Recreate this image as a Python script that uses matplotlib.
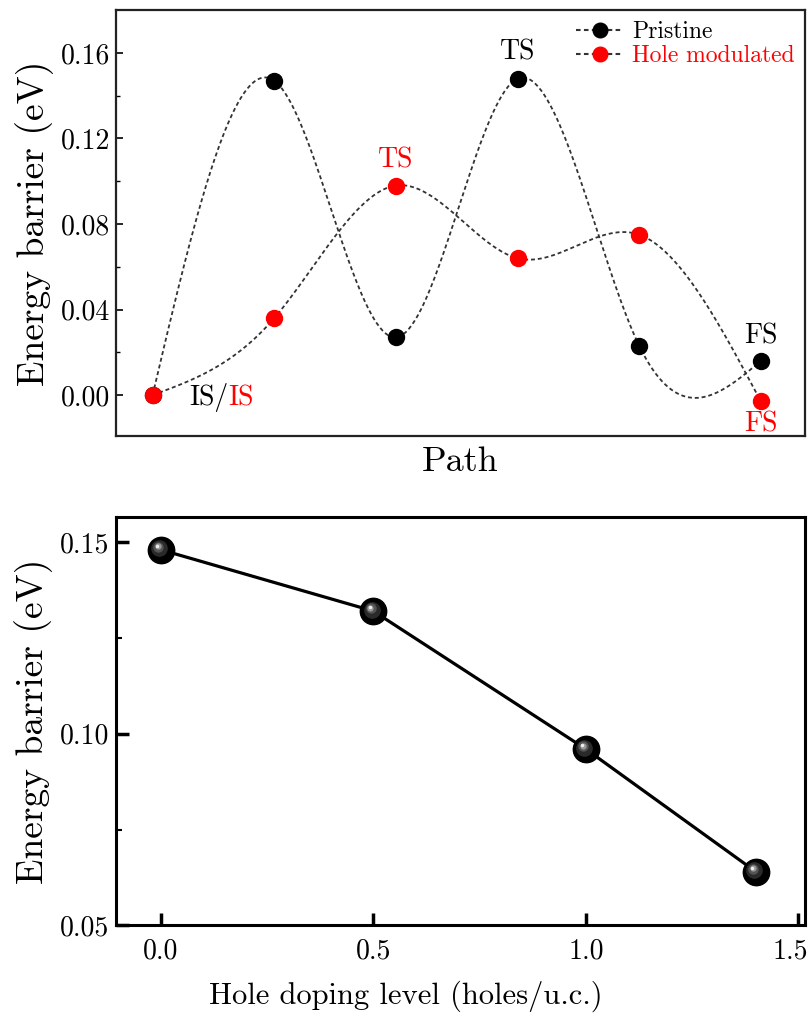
import numpy as np
import matplotlib
matplotlib.use("Agg")
from matplotlib import pyplot as plt
import matplotlib.transforms as mtransforms

plt.rcParams['font.family'] = ['cmr10', 'DejaVu Serif']
plt.rcParams['mathtext.fontset'] = 'cm'
plt.rcParams['axes.formatter.use_mathtext'] = True

# 反応経路のエネルギー
path_idx = [0, 1, 2, 3, 4, 5]
pristine = [0.0, 0.147, 0.027, 0.148, 0.023, 0.016]
hole_mod = [0.0, 0.036, 0.098, 0.064, 0.075, -0.003]

# ホールドープ量とバリア
doping = [0.0, 0.5, 1.0, 1.4]
barrier = [0.148, 0.132, 0.096, 0.064]


def natural_spline(x, y, n=400):
    """自然3次スプライン（線を滑らかにつなぐだけ）"""
    x = np.asarray(x, float)
    y = np.asarray(y, float)
    m = len(x)
    h = np.diff(x)
    A = np.zeros((m, m))
    b = np.zeros(m)
    A[0, 0] = A[-1, -1] = 1
    for i in range(1, m - 1):
        A[i, i - 1] = h[i - 1]
        A[i, i] = 2 * (h[i - 1] + h[i])
        A[i, i + 1] = h[i]
        b[i] = 6 * ((y[i + 1] - y[i]) / h[i] - (y[i] - y[i - 1]) / h[i - 1])
    M = np.linalg.solve(A, b)
    xs = np.linspace(x[0], x[-1], n)
    k = np.clip(np.searchsorted(x, xs) - 1, 0, m - 2)
    t0 = x[k + 1] - xs
    t1 = xs - x[k]
    hk = h[k]
    ys = (M[k] * t0**3 + M[k + 1] * t1**3) / (6 * hk) \
        + (y[k] / hk - M[k] * hk / 6) * t0 + (y[k + 1] / hk - M[k + 1] * hk / 6) * t1
    return xs, ys


fig = plt.figure(figsize=(8.12, 10.18), dpi=100)
ax1 = fig.add_axes([0.143, 0.572, 0.848, 0.418])
ax2 = fig.add_axes([0.143, 0.091, 0.848, 0.401])

# ---- 上段 ----
ls = (0, (2.2, 1.6))
for y, c in [(pristine, 'black'), (hole_mod, 'red')]:
    xs, ys = natural_spline(path_idx, y)
    ax1.plot(xs, ys, color='#333333', lw=1.3, ls=ls, zorder=2)
    ax1.plot(path_idx, y, 'o', color=c, ms=11.5, zorder=3)

# 凡例用
h1, = ax1.plot([], [], ls=ls, color='#333333', marker='o', mfc='black', mec='black', ms=10.5)
h2, = ax1.plot([], [], ls=ls, color='#333333', marker='o', mfc='red', mec='red', ms=10.5)
leg = ax1.legend([h1, h2], ['Pristine', 'Hole modulated'], loc='upper right', frameon=False,
                 fontsize=17, handlelength=2.0, handletextpad=0.35, borderaxespad=0.0,
                 labelspacing=0.1, borderpad=0.0, bbox_to_anchor=(0.985, 0.975))
leg.get_texts()[1].set_color('red')

t_is = ax1.text(0.30, -0.001, 'IS/', fontsize=20, ha='left', va='center')
ax1.annotate('IS', xy=(1, 0), xycoords=t_is, ha='left', va='bottom', fontsize=20, color='red')
ax1.text(3, 0.1605, 'TS', fontsize=20, ha='center', va='center')
ax1.text(2, 0.110, 'TS', fontsize=20, ha='center', va='center', color='red')
ax1.text(5, 0.0276, 'FS', fontsize=20, ha='center', va='center')
ax1.text(5, -0.0136, 'FS', fontsize=20, ha='center', va='center', color='red')

ax1.set_xlim(-0.3, 5.36)
ax1.set_ylim(-0.019, 0.180)
ax1.set_yticks([0.0, 0.04, 0.08, 0.12, 0.16])
ax1.set_yticklabels(['0.00', '0.04', '0.08', '0.12', '0.16'])
ax1.set_yticks(np.arange(0.02, 0.18, 0.04), minor=True)
ax1.set_xticks([])
ax1.tick_params(axis='y', which='major', direction='in', length=5, width=1.2, labelsize=20, pad=4)
ax1.tick_params(axis='y', which='minor', direction='in', length=3, width=1.0)
ax1.set_ylabel('Energy barrier (eV)', fontsize=27, labelpad=5)
ax1.set_xlabel('Path', fontsize=26, labelpad=8)
for s in ax1.spines.values():
    s.set_linewidth(1.6)
    s.set_color('#222222')

# ---- 下段 ----
ax2.plot(doping, barrier, '-', color='black', lw=2.3, zorder=2)
ax2.plot(doping, barrier, 'o', color='black', ms=19, zorder=3)
for dx, c, ms in [(-1.0, '#2a2a2a', 12), (-1.8, '#555555', 7.5), (-2.3, '#999999', 4.5), (-2.6, '#eeeeee', 2.5)]:
    tr = mtransforms.offset_copy(ax2.transData, fig=fig, x=dx, y=-dx * 1.1, units='points')
    ax2.plot(doping, barrier, 'o', color=c, ms=ms, mew=0, transform=tr, zorder=4)

ax2.set_xlim(-0.105, 1.515)
ax2.set_ylim(0.05, 0.1565)
ax2.set_xticks([0.0, 0.5, 1.0, 1.5])
ax2.set_xticklabels(['0.0', '0.5', '1.0', '1.5'])
ax2.set_yticks([0.05, 0.10, 0.15])
ax2.set_yticklabels(['0.05', '0.10', '0.15'])
ax2.set_yticks([0.075, 0.125], minor=True)
ax2.tick_params(axis='both', which='major', direction='in', length=9, width=2.5, labelsize=20, pad=5)
ax2.tick_params(axis='x', which='major', pad=9)
ax2.tick_params(axis='y', which='minor', direction='in', length=4, width=1.5)
ax2.set_ylabel('Energy barrier (eV)', fontsize=27, labelpad=5)
ax2.set_xlabel('Hole doping level (holes/u.c.)', fontsize=22, labelpad=12)
ax2.xaxis.set_label_coords(0.42, -0.135)

# 右端の 1.5 が切れないように少し左へ
last = ax2.get_xticklabels()[-1]
last.set_transform(last.get_transform() + mtransforms.ScaledTranslation(-6 / 72, 0, fig.dpi_scale_trans))

for s in ax2.spines.values():
    s.set_linewidth(2.2)

fig.savefig('out.png', dpi=100)
